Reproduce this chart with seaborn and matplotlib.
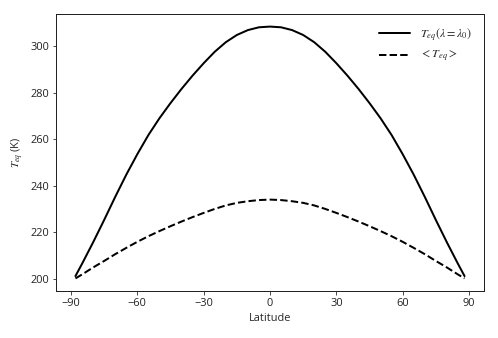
import matplotlib
matplotlib.use("Agg")
import matplotlib.pyplot as plt
import seaborn as sns
import pandas as pd

latitude = [-88, -85, -80, -75, -70, -65, -60, -55, -50, -45, -40, -35, -30, -25, -20, -15, -10, -5,
            0, 5, 10, 15, 20, 25, 30, 35, 40, 45, 50, 55, 60, 65, 70, 75, 80, 85, 88]
# values from equator (0) to pole (88)
_half_solid = [308.3, 308.0, 306.8, 304.7, 301.6, 297.5, 292.6, 287.3, 281.6, 275.5, 269.0, 261.8,
               253.6, 244.8, 235.3, 225.4, 215.8, 206.6, 201.3]
_half_dash = [234.1, 233.9, 233.4, 232.7, 231.6, 230.1, 228.4, 226.6, 224.7, 222.7, 220.6, 218.4,
              216.0, 213.4, 210.7, 207.8, 205.0, 202.0, 200.3]
teq_lambda0 = _half_solid[::-1] + _half_solid[1:]
teq_mean = _half_dash[::-1] + _half_dash[1:]

label_solid = r'$T_{eq}(\lambda=\lambda_0)$'
label_dash = r'$<T_{eq}>$'
x_ticks = [-90, -60, -30, 0, 30, 60, 90]

sns.set_style("ticks")
plt.rcParams['font.family'] = ['Open Sans', 'DejaVu Sans']
plt.rcParams['mathtext.fontset'] = 'stix'

df = pd.DataFrame({"Latitude": latitude, "solid": teq_lambda0, "dash": teq_mean})

fig = plt.figure(figsize=(498/72, 338/72), dpi=72)
ax = fig.add_axes([56/498, 47/338, 428/498, 277/338])

sns.lineplot(data=df, x="Latitude", y="solid", ax=ax, color="black", lw=2.0, label=label_solid)
sns.lineplot(data=df, x="Latitude", y="dash", ax=ax, color="black", lw=2.0, linestyle="--", label=label_dash)

ax.set_xticks(x_ticks)
ax.set_xlabel("Latitude", fontsize=11)
ax.set_ylabel(r'$T_{eq}$ (K)', fontsize=11)
ax.tick_params(labelsize=11, length=3.5, width=0.8, colors="#222222", labelcolor="#222222")
for s in ax.spines.values():
    s.set_color("#222222")
    s.set_linewidth(1.0)
leg = ax.legend(loc="upper right", frameon=False, fontsize=12, handlelength=2.6,
                borderaxespad=0.6)

fig.savefig("out.png", dpi=72)
